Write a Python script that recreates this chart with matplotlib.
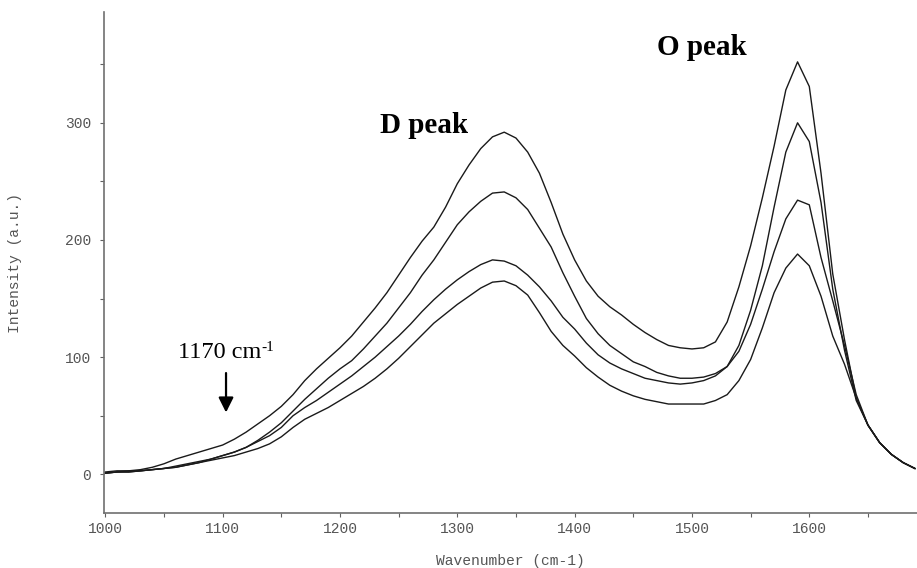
import numpy as np
import matplotlib
matplotlib.use('Agg')
import matplotlib.pyplot as plt
from matplotlib.ticker import MultipleLocator

# wavenumber grid (cm-1)
wavenumber = np.arange(1000, 1700, 10)

# four spectra, top to bottom at the D peak
spec_a = [2, 3, 3, 4, 6, 9, 13, 16, 19, 22,
          25, 30, 36, 43, 50, 58, 68, 80, 90, 99,
          108, 118, 130, 142, 155, 170, 185, 199, 211, 228,
          248, 264, 278, 288, 292, 287, 275, 257, 232, 205,
          183, 165, 152, 143, 136, 128, 121, 115, 110, 108,
          107, 108, 113, 130, 160, 195, 236, 280, 328, 352,
          331, 257, 171, 115, 65, 42, 27, 17, 10, 5]
spec_b = [1, 2, 3, 3, 4, 5, 7, 9, 11, 13,
          16, 19, 23, 29, 36, 44, 54, 64, 73, 82,
          90, 97, 107, 118, 129, 142, 155, 170, 183, 198,
          213, 224, 233, 240, 241, 236, 226, 210, 194, 172,
          152, 133, 120, 110, 103, 96, 92, 87, 84, 82,
          82, 83, 86, 92, 110, 140, 178, 228, 275, 300,
          284, 232, 158, 106, 63, 42, 27, 17, 10, 5]
spec_c = [1, 2, 2, 3, 4, 5, 6, 8, 10, 13,
          16, 19, 23, 28, 33, 40, 50, 57, 63, 70,
          77, 84, 92, 100, 109, 118, 128, 139, 149, 158,
          166, 173, 179, 183, 182, 178, 170, 160, 148, 134,
          124, 112, 102, 95, 90, 86, 82, 80, 78, 77,
          78, 80, 84, 92, 105, 128, 158, 190, 218, 234,
          230, 185, 148, 110, 68, 42, 27, 17, 10, 5]
spec_d = [1, 2, 2, 3, 4, 5, 6, 8, 10, 12,
          14, 16, 19, 22, 26, 32, 40, 47, 52, 57,
          63, 69, 75, 82, 90, 99, 109, 119, 129, 137,
          145, 152, 159, 164, 165, 161, 153, 138, 122, 110,
          101, 91, 83, 76, 71, 67, 64, 62, 60, 60,
          60, 60, 63, 68, 80, 98, 125, 155, 176, 188,
          178, 152, 118, 94, 65, 42, 27, 17, 10, 5]

mono = 'Liberation Mono'
serif = 'Liberation Serif'
grey = '#555555'

fig = plt.figure(figsize=(9.17, 5.68), dpi=100)
ax = fig.add_axes([104 / 917, 55 / 568, 813 / 917, 500.7 / 568])

for spec in [spec_a, spec_b, spec_c, spec_d]:
    ax.plot(wavenumber, spec, color='#1a1a1a', lw=1.0)

ax.set_xlim(998.9, 1691.8)
ax.set_ylim(-33, 394.3)

# axes look of the old spectrometer software
for side in ['top', 'right']:
    ax.spines[side].set_visible(False)
for side in ['left', 'bottom']:
    ax.spines[side].set_color('#707070')
    ax.spines[side].set_linewidth(1.2)

ax.xaxis.set_major_locator(MultipleLocator(100))
ax.xaxis.set_minor_locator(MultipleLocator(50))
ax.yaxis.set_major_locator(MultipleLocator(100))
ax.yaxis.set_minor_locator(MultipleLocator(50))
ax.tick_params(which='both', direction='out', length=3.2, width=0.8, color='#606060')
ax.tick_params(axis='x', which='major', pad=3)
ax.tick_params(axis='y', which='major', pad=6)
for lab in ax.get_xticklabels() + ax.get_yticklabels():
    lab.set_fontfamily(mono)
    lab.set_fontsize(10.5)
    lab.set_color(grey)

fig.text(510.5 / 917, 3 / 568, 'Wavenumber (cm-1)', family=mono, fontsize=10.5,
         color=grey, ha='center', va='baseline')
fig.text(15 / 917, 1 - 263 / 568, 'Intensity (a.u.)', family=mono, fontsize=10.5,
         color=grey, ha='center', va='center', rotation=90)

# annotations
ax.text(1234.3, 291.5, 'D peak', family=serif, fontweight='bold', fontsize=21,
        va='baseline', ha='left')
ax.text(1470.2, 357.8, 'O peak', family=serif, fontweight='bold', fontsize=21,
        va='baseline', ha='left')
t = ax.text(1062.2, 99.6, '1170 cm', family=serif, fontsize=17.5,
            va='baseline', ha='left')
ax.annotate('-1', xy=(1.0, 1.02), xycoords=t, family=serif, fontsize=11,
            va='top', ha='left')
ax.annotate('', xy=(1102.9, 50.4), xytext=(1102.9, 88.8),
            arrowprops=dict(arrowstyle='-|>,head_length=0.9,head_width=0.45',
                            color='black', lw=1.6))

fig.savefig('out.png', dpi=100)
